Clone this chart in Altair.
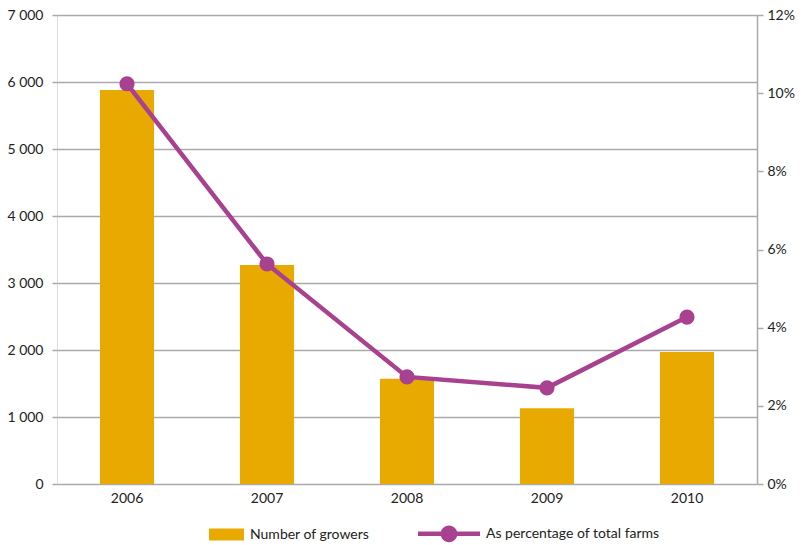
import altair as alt
import pandas as pd

years = ["2006", "2007", "2008", "2009", "2010"]
growers = [5880, 3270, 1570, 1130, 1970]
share = [0.1024, 0.0563, 0.0274, 0.0246, 0.0427]
series_names = ["Number of growers", "As percentage of total farms"]
left_ticks = [0, 1000, 2000, 3000, 4000, 5000, 6000, 7000]
right_ticks = [0, 0.02, 0.04, 0.06, 0.08, 0.10, 0.12]

GOLD = "#E8AA00"
PURPLE = "#A8418F"
GRID = "#AAAAAA"
TEXT = "#222222"
FONT = "Lato"

df = pd.DataFrame({"year": years, "growers": growers, "share": share})
leg_df = pd.DataFrame({"series": series_names, "year": [years[0], years[0]]})

RECT_PATH = "M-0.129,-0.19H1V0.19H-0.129Z"
LINE_PATH = ("M-1,-0.073H1V0.073H-1Z "
             "M0.27,0A0.27,0.27 0 1,1 -0.27,0A0.27,0.27 0 1,1 0.27,0Z")

x_enc = alt.X(
    "year:N", sort=years,
    scale=alt.Scale(paddingInner=0.614, paddingOuter=0.307),
    axis=alt.Axis(title=None, labelAngle=0, ticks=False, domain=False, grid=False,
                  labelPadding=7, labelFontSize=14, labelColor=TEXT, labelFont=FONT),
)

bars = alt.Chart(df).mark_bar(color=GOLD).encode(
    x=x_enc,
    y=alt.Y("growers:Q",
            scale=alt.Scale(domain=[0, 7000], nice=False),
            axis=alt.Axis(title=None, values=left_ticks,
                          labelExpr="replace(format(datum.value, ','), ',', ' ')",
                          grid=True, gridColor=GRID, gridWidth=1.5,
                          domain=False,
                          tickColor=GRID, tickSize=5, tickWidth=1.5,
                          labelPadding=9, labelFontSize=14, labelColor=TEXT,
                          labelFont=FONT)),
)

line = alt.Chart(df).mark_line(
    color=PURPLE, strokeWidth=4.5,
    point=alt.OverlayMarkDef(filled=True, size=230, color=PURPLE, opacity=1),
).encode(
    x=x_enc,
    y=alt.Y("share:Q",
            scale=alt.Scale(domain=[0, 0.12], nice=False),
            axis=alt.Axis(title=None, orient="right", values=right_ticks, format=".0%",
                          grid=False, domain=True, domainColor=GRID, domainWidth=1.5,
                          tickColor=GRID, tickSize=6, tickWidth=1.5,
                          labelPadding=4, labelFontSize=14, labelColor=TEXT,
                          labelFont=FONT)),
)

legend_layer = alt.Chart(leg_df).transform_filter("false").mark_point(
    filled=True, opacity=1
).encode(
    x=x_enc,
    color=alt.Color("series:N",
                    scale=alt.Scale(domain=series_names, range=[GOLD, PURPLE]),
                    legend=alt.Legend(title=None, orient="none", direction="horizontal",
                                      legendX=125, legendY=487.5, padding=0,
                                      symbolSize=3844, symbolStrokeWidth=0,
                                      symbolOpacity=1, labelLimit=400,
                                      labelOffset=6, columnPadding=48,
                                      labelFontSize=14, labelColor=TEXT, labelFont=FONT)),
    shape=alt.Shape("series:N",
                    scale=alt.Scale(domain=series_names, range=[RECT_PATH, LINE_PATH]),
                    legend=alt.Legend(title=None)),
)

chart = alt.layer(bars, line, legend_layer).resolve_scale(
    y="independent"
).properties(
    width=700, height=469,
    autosize=alt.AutoSizeParams(type="none"),
    padding={"left": 57, "top": 15, "right": 48, "bottom": 61},
).configure_view(
    stroke=None, strokeWidth=0
).configure_axisX(grid=False, domain=False
).configure(background="white")

chart.save("out.html", embed_options={"renderer": "svg", "actions": False})
